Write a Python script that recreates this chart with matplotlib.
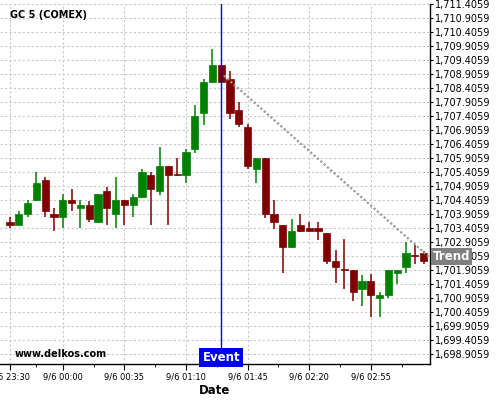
import matplotlib
matplotlib.use('Agg')
import matplotlib.pyplot as plt
import matplotlib.ticker as mticker
import numpy as np

# 5-minute candles, 9/5 23:30 -> 9/6 03:25
opens = [1703.62, 1703.52, 1703.92, 1704.41, 1705.12, 1703.91, 1703.81, 1704.39,
         1704.13, 1704.23, 1703.62, 1704.73, 1703.92, 1704.41, 1704.24, 1704.51,
         1705.30, 1704.74, 1705.62, 1705.34, 1705.31, 1706.24, 1707.52, 1708.63,
         1709.23, 1708.73, 1707.62, 1707.01, 1705.51, 1705.91, 1703.91, 1703.51,
         1702.72, 1703.51, 1703.41, 1703.41, 1703.23, 1702.24, 1701.94, 1701.91,
         1701.24, 1701.51, 1700.92, 1701.02, 1701.81, 1702.02, 1702.44, 1702.51]
highs = [1703.79, 1704.00, 1704.39, 1705.39, 1705.22, 1704.11, 1704.62, 1704.79,
         1704.39, 1704.38, 1704.63, 1704.88, 1705.22, 1704.41, 1704.62, 1705.50,
         1705.39, 1706.29, 1705.62, 1705.89, 1706.22, 1707.80, 1708.73, 1709.79,
         1709.23, 1709.00, 1707.91, 1707.11, 1705.91, 1705.91, 1704.39, 1703.51,
         1703.72, 1703.89, 1703.62, 1703.62, 1703.23, 1702.62, 1703.00, 1701.91,
         1701.72, 1701.75, 1701.11, 1701.91, 1701.91, 1702.91, 1702.79, 1702.58]
lows = [1703.41, 1703.50, 1703.79, 1704.37, 1703.79, 1703.29, 1703.41, 1704.00,
        1703.41, 1703.61, 1703.60, 1703.50, 1703.41, 1703.50, 1703.79, 1704.49,
        1703.50, 1704.59, 1703.50, 1705.26, 1705.00, 1706.09, 1707.09, 1708.60,
        1708.63, 1707.29, 1707.00, 1705.50, 1705.00, 1703.77, 1703.38, 1701.79,
        1702.69, 1703.26, 1703.30, 1702.99, 1702.11, 1701.45, 1701.22, 1700.79,
        1700.61, 1700.22, 1700.22, 1700.89, 1701.39, 1701.79, 1702.11, 1702.11]
closes = [1703.52, 1703.91, 1704.30, 1705.01, 1704.02, 1703.81, 1704.39, 1704.31,
          1704.22, 1703.74, 1704.62, 1704.13, 1704.41, 1704.24, 1704.51, 1705.41,
          1704.81, 1705.62, 1705.31, 1705.30, 1706.12, 1707.41, 1708.62, 1709.23,
          1708.63, 1707.52, 1707.13, 1705.62, 1705.91, 1703.91, 1703.63, 1702.73,
          1703.30, 1703.30, 1703.30, 1703.30, 1702.23, 1702.01, 1701.91, 1701.13,
          1701.51, 1701.02, 1701.02, 1701.91, 1701.91, 1702.51, 1702.42, 1702.24]

tick_idx = [0, 6, 13, 20, 27, 34, 41]
tick_labels = ['9/5 23:30', '9/6 00:00', '9/6 00:35', '9/6 01:10',
               '9/6 01:45', '9/6 02:20', '9/6 02:55']

event_idx = 24
trend_x = [24.3, 47.7]
trend_y = [1708.85, 1702.35]
trend_label_y = 1702.39

y_top = 1711.4059
y_bottom = 1698.5487

UP = '#008000'
DOWN = '#800000'
EVENT = '#0000ee'
GRID = '#c8c8c8'

fig = plt.figure(figsize=(5, 4), dpi=100)
ax = fig.add_axes([0.0, 0.09, 0.86, 0.90])

x = np.arange(len(opens))
o = np.array(opens)
c = np.array(closes)
colors = [UP if cc >= oo else DOWN for oo, cc in zip(o, c)]

ax.vlines(x, lows, highs, colors=colors, linewidth=1.1, zorder=3)
ax.bar(x, np.abs(c - o), bottom=np.minimum(o, c), width=0.82,
       color=colors, edgecolor=colors, linewidth=0.5, zorder=4)

# trend line and event marker
ax.plot(trend_x, trend_y, color='#999999', linestyle=(0, (1, 1)), linewidth=1.6, zorder=5)
ax.axvline(event_idx, color=EVENT, linewidth=1.0, zorder=6)

ax.set_xlim(-1.14, 47.73)
ax.set_ylim(y_bottom, y_top)

ax.set_xticks(tick_idx)
ax.set_xticklabels(tick_labels, fontsize=6)
mids = [(a + b) / 2 for a, b in zip(tick_idx[:-1], tick_idx[1:])] + [44.5]
ax.set_xticks(mids, minor=True)
ax.tick_params(axis='x', which='major', length=4.5, width=0.8, pad=1.5)
ax.tick_params(axis='x', which='minor', length=2.5, width=0.6)

ax.yaxis.tick_right()
ax.set_yticks(np.arange(1698.9059, 1711.41, 0.5))
ax.yaxis.set_major_formatter(mticker.StrMethodFormatter('{x:,.4f}'))
ax.tick_params(axis='y', labelsize=7, length=2, width=0.8, pad=1.5)

ax.grid(True, which='major', color=GRID, linestyle=(0, (2, 2)), linewidth=0.8, zorder=0)
ax.set_axisbelow(True)

for s in ['top', 'left']:
    ax.spines[s].set_visible(False)
ax.spines['right'].set_linewidth(1.0)
ax.spines['bottom'].set_linewidth(1.0)

ax.set_xlabel('Date', fontsize=8.5, fontweight='bold', labelpad=2)

# labels
ax.text(event_idx, y_bottom, 'Event', ha='center', va='bottom', fontsize=8.5,
        fontweight='bold', color='white', zorder=8,
        bbox=dict(boxstyle='square,pad=0.25', facecolor=EVENT, edgecolor='none'))
ax.annotate('Trend', xy=(1.0, trend_label_y), xycoords=('axes fraction', 'data'),
            xytext=(2, 0), textcoords='offset points', ha='left', va='center',
            fontsize=8.5, fontweight='bold', color='white', zorder=8, annotation_clip=False,
            bbox=dict(boxstyle='square,pad=0.18', facecolor='#808080', edgecolor='none'))

fig.text(0.02, 1 - 15 / 400, 'GC 5 (COMEX)', fontsize=7, fontweight='bold', va='center')
fig.text(0.03, 1 - 354 / 400, 'www.delkos.com', fontsize=7, fontweight='bold', va='center')

fig.savefig('out.png', dpi=100, facecolor='white')
plt.close()
